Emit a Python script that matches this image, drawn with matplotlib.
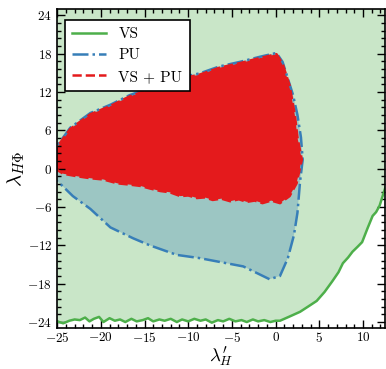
import numpy as np
import matplotlib
matplotlib.use('agg')
import matplotlib.pyplot as plt
from matplotlib.ticker import MultipleLocator, AutoMinorLocator

plt.rcParams['font.family'] = 'serif'
plt.rcParams['font.serif'] = ['cmr10']
plt.rcParams['mathtext.fontset'] = 'cm'
plt.rcParams['axes.formatter.use_mathtext'] = True
plt.rcParams['axes.unicode_minus'] = True

# VS boundary (vacuum stability), region above the curve is allowed
vs_x = [-26.0, -25.0, -24.3, -23.6, -23.0, -22.4, -21.8, -21.3, -20.8, -20.2, -19.7,
        -19.0, -18.4, -17.8, -17.2, -16.5, -15.9, -15.2, -14.6, -14.0, -13.3,
        -12.7, -12.0, -11.3, -10.7, -10.0, -9.3, -8.6, -8.0, -7.3, -6.6, -6.0,
        -5.3, -4.6, -3.9, -3.3, -2.6, -2.0, -1.3, -0.6, 0.0, 0.5, 1.5, 2.8, 3.7,
        4.7, 5.6, 6.5, 7.2, 7.7, 8.3, 8.8, 9.4, 9.9, 10.5, 11.1, 11.5, 11.9,
        12.5, 13.0]
vs_y = [-23.9, -23.9, -24.2, -23.8, -23.6, -23.7, -23.3, -23.9, -23.5, -23.2, -24.0,
        -23.4, -23.8, -23.6, -24.0, -23.5, -23.9, -23.7, -23.4, -23.9, -23.6,
        -23.8, -23.5, -24.0, -23.6, -23.9, -23.5, -23.8, -23.6, -24.1, -23.7,
        -23.9, -23.5, -23.9, -23.7, -24.0, -23.6, -23.9, -23.7, -24.0, -23.8,
        -23.8, -23.2, -22.4, -21.6, -20.7, -19.3, -17.6, -16.2, -14.8, -13.9,
        -13.0, -12.2, -11.5, -9.4, -7.4, -6.8, -5.8, -3.2, -1.5]

# PU boundary (perturbative unitarity), closed contour
pu_x = [-26.0, -25.1, -23.5, -21.2, -18.9, -16.7, -14.4, -11.5, -8.7, -6.4, -4.1,
        -1.8, 0.1, 0.8, 1.4, 2.0, 2.5, 2.9, 3.1, 2.8, 2.5, 2.1, 1.4, 0.5, -0.7,
        -3.7, -8.7, -11.3, -14.4, -16.3, -18.9, -21.2, -23.2, -24.7, -26.0]
pu_y = [1.0, 3.4, 6.4, 8.7, 10.0, 11.5, 12.6, 14.1, 14.9, 16.0, 16.7, 17.5, 18.1,
        16.7, 14.1, 11.5, 8.4, 4.9, 1.4, -2.0, -6.9, -10.4, -14.0, -16.8, -17.3,
        -15.3, -14.0, -13.5, -12.0, -10.9, -9.2, -6.3, -4.3, -2.3, -1.0]

# VS + PU overlap region
both_x = [-26.0, -25.1, -23.5, -21.2, -18.9, -16.7, -14.4, -11.5, -8.7, -6.4, -4.1,
          -1.8, 0.1, 0.8, 1.6, 2.2, 2.5, 3.0, 2.4, 1.6, 0.5, -0.5, -1.5, -2.4, -3.3,
          -4.2, -5.2, -6.2, -7.2, -8.1, -9.0, -10.0, -10.9, -12.1, -13.2, -14.4,
          -15.5, -16.7, -18.1, -19.7, -21.2, -22.7, -24.3, -25.0, -26.0]
both_y = [3.2, 3.2, 6.2, 8.5, 9.8, 11.3, 12.4, 13.9, 14.7, 15.8, 16.5, 17.3, 17.9,
          16.4, 13.0, 8.4, 4.9, 1.4, -2.3, -4.3, -5.4, -5.0, -5.4, -5.0, -5.2,
          -4.8, -5.1, -4.7, -4.9, -4.5, -4.6, -4.2, -4.3, -3.7, -3.5, -3.1, -2.7,
          -2.5, -2.3, -1.7, -1.5, -1.2, -0.8, -0.2, -0.2]

green = '#4daf4a'
blue = '#377eb8'
red = '#e41a1c'

fig = plt.figure(figsize=(3.86, 3.69), dpi=100)
ax = fig.add_axes([0.148, 0.11, 0.849, 0.866])

vs_fill_x = vs_x + [13.0, -26.0]
vs_fill_y = vs_y + [26.0, 26.0]
ax.fill(vs_fill_x, vs_fill_y, color=green, alpha=0.3, lw=0)
ax.plot(vs_x, vs_y, color=green, lw=1.8, label='VS')

ax.fill(pu_x, pu_y, color=blue, alpha=0.3, lw=0)
ax.plot(pu_x + [pu_x[0]], pu_y + [pu_y[0]], color=blue, lw=1.8, ls='-.', label='PU')

ax.fill(both_x, both_y, color=red, lw=0)
ax.plot(both_x + [both_x[0]], both_y + [both_y[0]], color=red, lw=1.8, ls='--',
        label='VS + PU')

ax.set_xlim(-25, 12.5)
ax.set_ylim(-25, 25)
ax.xaxis.set_major_locator(MultipleLocator(5))
ax.xaxis.set_minor_locator(AutoMinorLocator(5))
ax.yaxis.set_major_locator(MultipleLocator(6))
ax.yaxis.set_minor_locator(AutoMinorLocator(5))
ax.tick_params(which='both', direction='in', top=True, right=True, labelsize=9.5,
               width=1)
ax.tick_params(which='major', length=6)
ax.tick_params(which='minor', length=3)
ax.tick_params(axis='x', pad=2)
for s in ax.spines.values():
    s.set_linewidth(1.2)

ax.set_xlabel(r"$\lambda_H^{\prime}$", fontsize=13.5, labelpad=0)
ax.set_ylabel(r"$\lambda_{H\Phi}$", fontsize=15, labelpad=0)

leg = ax.legend(loc='upper left', fontsize=11, fancybox=False, framealpha=1,
                edgecolor='black', handlelength=2.2, borderpad=0.5,
                bbox_to_anchor=(0.0, 0.99))
leg.get_frame().set_linewidth(1.2)

fig.savefig('out.png', dpi=100)
